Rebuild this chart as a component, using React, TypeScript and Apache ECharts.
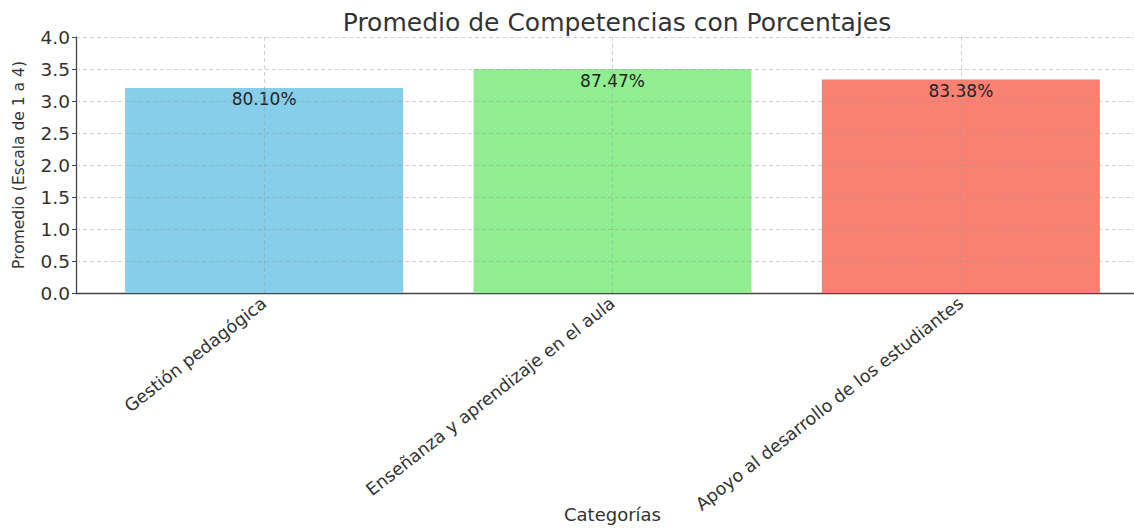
import React, { useEffect, useRef } from "react";
import * as echarts from "echarts";

const categories = [
  "Gestión pedagógica",
  "Enseñanza y aprendizaje en el aula",
  "Apoyo al desarrollo de los estudiantes",
];
const averages = [3.204, 3.4988, 3.3352];
const percentLabels = ["80.10%", "87.47%", "83.38%"];
const barColors = ["#87CEEB", "#90EE90", "#FA8072"];
const yTicks = [0.5, 1.0, 1.5, 2.0, 2.5, 3.0, 3.5, 4.0];
const categoryPositions = [0, 1, 2];

const FONT = "DejaVu Sans";

export default function App() {
  const ref = useRef<HTMLDivElement>(null);
  useEffect(() => {
    document.body.style.margin = "0";
    if (!ref.current) return;
    const chart = echarts.init(ref.current, undefined, { renderer: "svg" });
    const gridLine = { color: "rgba(150,150,150,0.45)", type: [4, 3], width: 1 };
    chart.setOption({
      animation: false,
      backgroundColor: "#ffffff",
      textStyle: { fontFamily: FONT },
      title: {
        text: "Promedio de Competencias con Porcentajes",
        left: 612,
        textAlign: "center",
        top: 5,
        textStyle: { fontFamily: FONT, fontSize: 25, fontWeight: "normal", color: "#333" },
      },
      grid: {
        left: 76,
        right: -15,
        top: 37,
        bottom: 238,
        containLabel: false,
        outerBoundsMode: "none",
      },
      xAxis: {
        type: "value",
        min: -0.54,
        max: 2.54,
        name: "Categorías",
        nameLocation: "middle",
        nameGap: 212,
        nameMoveOverlap: false,
        nameTextStyle: { fontFamily: FONT, fontSize: 18, color: "#333" },
        axisLine: { show: true, onZero: false, lineStyle: { color: "#444", width: 1.3 } },
        axisTick: { show: true, inside: true, length: 5, customValues: categoryPositions, lineStyle: { color: "#444" } },
        axisLabel: {
          customValues: categoryPositions,
          rotate: 38,
          fontFamily: FONT,
          fontSize: 17.5,
          color: "#333",
          margin: 8,
          formatter: (v: number) => categories[Math.round(v)] ?? "",
        },
        splitLine: { show: false },
      },
      yAxis: {
        type: "value",
        min: 0,
        max: 4,
        interval: 0.5,
        name: "Promedio (Escala de 1 a 4)",
        nameLocation: "middle",
        nameGap: 49,
        nameTextStyle: { fontFamily: FONT, fontSize: 15.5, color: "#333" },
        axisLine: { show: true, onZero: false, lineStyle: { color: "#444", width: 1.3 } },
        axisTick: { show: true, length: 4, lineStyle: { color: "#444" } },
        axisLabel: {
          fontFamily: FONT,
          fontSize: 18.5,
          color: "#333",
          margin: 6,
          formatter: (v: number) => v.toFixed(1),
        },
        splitLine: { show: false },
      },
      series: [
        {
          type: "bar",
          barWidth: 278,
          data: averages.map((v, i) => ({
            value: [i, v],
            itemStyle: { color: barColors[i] },
            label: { formatter: percentLabels[i] },
          })),
          label: {
            show: true,
            position: "insideTop",
            distance: 3,
            fontFamily: FONT,
            fontSize: 17,
            color: "#222",
          },
          markLine: {
            silent: true,
            symbol: "none",
            z: 3,
            label: { show: false },
            lineStyle: gridLine,
            emphasis: { disabled: true },
            data: [
              ...yTicks.map((t) => ({ yAxis: t })),
              ...categoryPositions.map((c) => ({ xAxis: c })),
            ],
          },
        },
      ],
    });
    return () => chart.dispose();
  }, []);
  return <div ref={ref} style={{ width: 1134, height: 531 }} />;
}
